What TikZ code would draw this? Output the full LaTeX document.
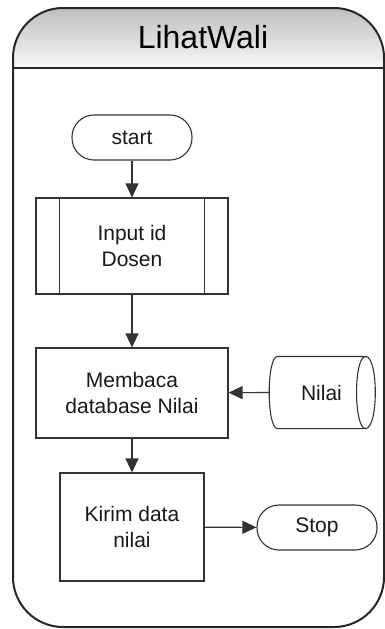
\documentclass[tikz,border=0pt]{standalone}
\usepackage{fontspec}
\setmainfont{Liberation Sans}
\usepackage{tikz}
\usetikzlibrary{arrows.meta}

\begin{document}
\begin{tikzpicture}[x=1pt,y=-1pt,
  box/.style={draw=black!80,line width=1.1pt,align=center,text=black!90,
    font=\fontsize{21}{26}\selectfont},
  term/.style={box,rounded corners=22pt,minimum width=120pt,minimum height=45pt},
  flow/.style={-{Triangle[length=14pt,width=13pt]},line width=1.1pt,draw=black!80}]
  \useasboundingbox (0,0) rectangle (385,629);
  \begin{scope}
    \clip[rounded corners=50pt] (13,300) -- (13,8) -- (384,8) -- (384,627) -- (13,627) -- cycle;
    \shade[top color=black!25,bottom color=black!3] (0,8) rectangle (385,68);
  \end{scope}
  \draw[line width=2pt,black!85,rounded corners=50pt]
       (13,300) -- (13,8) -- (384,8) -- (384,627) -- (13,627) -- cycle;
  \draw[line width=2pt,black!85] (13,68) -- (384,68);
  \node[font=\fontsize{32}{36}\selectfont] (judul) at (203,37) {LihatWali};

  \node[term] (start) at (132,137.5) {start};
  \node[box,minimum width=192pt,minimum height=96pt] (input) at (132,246) {Input id\\Dosen};
  \draw[black!80,line width=1.1pt] ([xshift=24pt]input.north west) -- ([xshift=24pt]input.south west);
  \draw[black!80,line width=1.1pt] ([xshift=-24pt]input.north east) -- ([xshift=-24pt]input.south east);
  \node[box,minimum width=192pt,minimum height=90pt] (baca) at (132,393) {Membaca\\database Nilai};
  \node[box,draw=none,minimum width=87pt,minimum height=71pt] (nilai) at (321.5,392.5) {Nilai};
  \draw[black!80,line width=1.1pt] (nilai.north west) -- (nilai.north east)
       (nilai.south west) -- (nilai.south east)
       (nilai.north west) .. controls +(-11pt,0) and +(-11pt,0) .. (nilai.south west)
       (nilai.north east) .. controls +(13pt,0) and +(13pt,0) .. (nilai.south east)
       (nilai.north east) .. controls +(-12pt,0) and +(-12pt,0) .. (nilai.south east);
  \coordinate (nilaiin) at ([xshift=-8pt]nilai.west);
  \node[box,minimum width=144pt,minimum height=108pt] (kirim) at (132,527) {Kirim data\\nilai};
  \node[term] (stop) at (317,527.5) {Stop};

  \draw[flow] (start) -- (input);
  \draw[flow] (input) -- (baca);
  \draw[flow] (nilaiin) -- (baca);
  \draw[flow] (baca) -- (kirim);
  \draw[flow] (kirim) -- (stop);
\end{tikzpicture}
\end{document}
